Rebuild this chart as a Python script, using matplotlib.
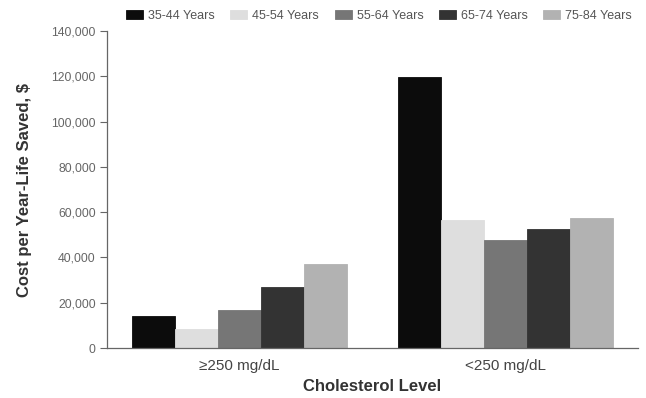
import matplotlib
matplotlib.use("Agg")
import matplotlib.pyplot as plt
import numpy as np

plt.rcParams['font.family'] = ['Liberation Sans', 'DejaVu Sans']

categories = ["\u2265250 mg/dL", "<250 mg/dL"]
series = ["35-44 Years", "45-54 Years", "55-64 Years", "65-74 Years", "75-84 Years"]
v_35_44 = [14000, 119500]
v_45_54 = [8300, 56500]
v_55_64 = [17000, 47500]
v_65_74 = [26800, 52500]
v_75_84 = [37300, 57500]
values = [v_35_44, v_45_54, v_55_64, v_65_74, v_75_84]
colors = ["#0c0c0c", "#dedede", "#767676", "#333333", "#b2b2b2"]
yticks = [0, 20000, 40000, 60000, 80000, 100000, 120000, 140000]

fig = plt.figure(figsize=(6.46, 3.98), dpi=100)
ax = fig.add_axes([0.1656, 0.1256, 0.822, 0.7964])

x = np.arange(len(categories))
w = 0.162
for i, (s, v, c) in enumerate(zip(series, values, colors)):
    ax.bar(x + (i - 2) * w, v, width=w, color=c, label=s, edgecolor=c, linewidth=0.6)

ax.set_xlim(-0.5, 1.5)
ax.set_ylim(0, 140000)
ax.set_yticks(yticks)
ax.set_yticklabels([f"{t:,}" for t in yticks], fontsize=8.8, color="#666666")
ax.set_xticks(x)
ax.set_xticklabels(categories, fontsize=11, color="#444444")
ax.tick_params(axis='x', length=0, pad=8)
ax.tick_params(axis='y', length=5, width=0.8, color="#666666", pad=3)
for sp in ['top', 'right']:
    ax.spines[sp].set_visible(False)
for sp in ['left', 'bottom']:
    ax.spines[sp].set_color("#666666")
    ax.spines[sp].set_linewidth(0.9)

ax.set_ylabel("Cost per Year-Life Saved, $", fontsize=12, fontweight='bold', color="#333333", labelpad=14)
ax.set_xlabel("Cholesterol Level", fontsize=12, fontweight='bold', color="#333333", labelpad=4)

leg = fig.legend(loc='upper left', bbox_to_anchor=(0.178, 1.004), ncol=5, frameon=False,
                 fontsize=9, handlelength=1.35, handleheight=0.75, handletextpad=0.4,
                 columnspacing=1.25, labelcolor="#555555")

fig.savefig("out.png", dpi=100)
